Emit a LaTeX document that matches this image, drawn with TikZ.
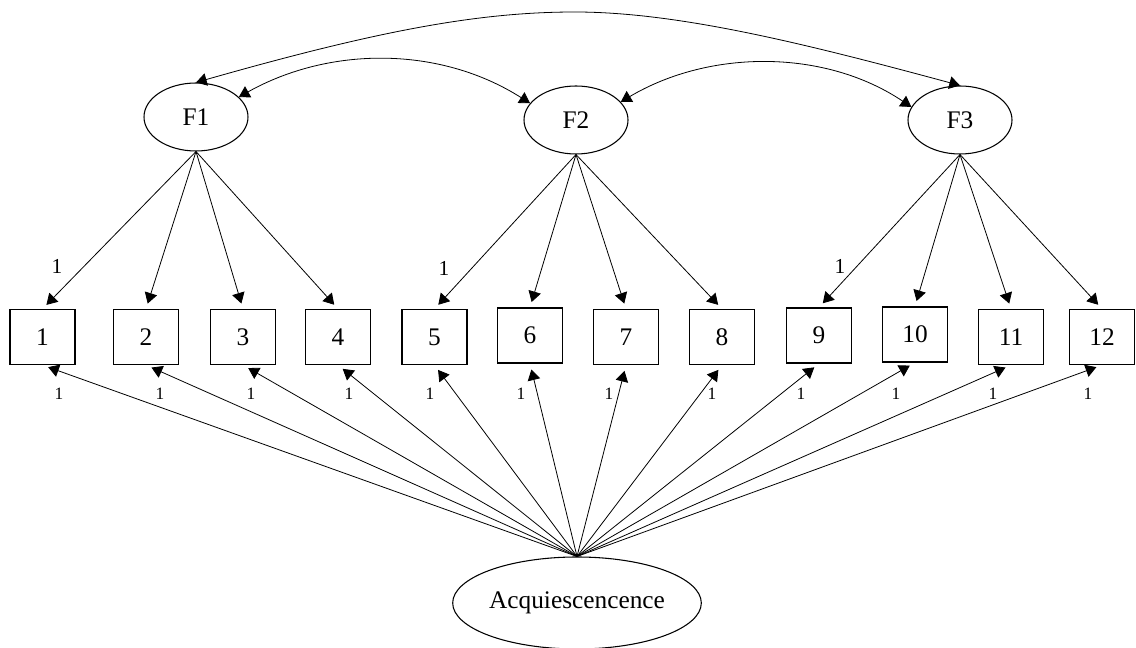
\documentclass[tikz,border=0pt]{standalone}
\usepackage{fontspec}
\setmainfont{Liberation Serif}
\usetikzlibrary{shapes.geometric,arrows.meta}
\begin{document}
\begin{tikzpicture}[x=0.75pt,y=-0.75pt,
  lat/.style={draw,ellipse,inner sep=0pt,minimum width=78pt,minimum height=51pt,line width=0.8pt,font=\fontsize{19}{21}\selectfont},
  acq/.style={draw,ellipse,inner sep=0pt,minimum width=183.75pt,minimum height=69pt,line width=0.8pt,font=\fontsize{19}{21}\selectfont},
  obs/.style={draw,rectangle,inner sep=0pt,minimum width=48.75pt,minimum height=41.25pt,line width=0.9pt,font=\fontsize{19}{21}\selectfont},
  arr/.style={line width=0.6pt,-{Triangle[length=8pt,width=9.5pt]}},
  biarr/.style={line width=0.6pt,{Triangle[length=8pt,width=9.5pt]}-{Triangle[length=8pt,width=9.5pt]}},
  ldlab/.style={font=\fontsize{16}{18}\selectfont,inner sep=0pt},
  smlab/.style={font=\fontsize{13}{15}\selectfont,inner sep=0pt}]
\useasboundingbox (0,0) rectangle (1136,648);
% latent factors
\node[lat] (F1) at (196,117) {F1};
\node[lat] (F2) at (576,120) {F2};
\node[lat] (F3) at (960,120) {F3};
\node[acq] (A) at (577,603) {Acquiescencence};
% observed items
\foreach \i/\x/\y in {1/42.5/337, 2/146/337, 3/243/337, 4/338/337, 5/434.5/337, 6/530/335.5, 7/626/337, 8/722/337, 9/819/335.5, 10/915/334.5, 11/1011/337, 12/1102/337}
  \node[obs] (b\i) at (\x,\y) {\i};
% covariances
\draw[biarr] (F1.north) .. controls (380,30) and (480,12) .. (575,12) .. controls (680,12) and (810,45) .. (F3.north);
\draw[biarr] (F1.25) .. controls (330,46) and (440,46) .. (F2.160);
\draw[biarr] (F2.22) .. controls (710,49) and (825,49) .. (F3.165);
% loadings
\foreach \f/\b in {F1/1,F1/2,F1/3,F1/4,F2/5,F2/6,F2/7,F2/8,F3/9,F3/10,F3/11,F3/12}
  \draw[arr,shorten >=4.2pt] (\f.south) -- (b\b.north);
% acquiescence paths
\foreach \b in {1,...,12}
  \draw[arr,shorten >=4.5pt] (A.north) -- (b\b.south);
% loading labels
\node[ldlab] (l1) at (57,266) {1};
\node[ldlab] (l5) at (444,268) {1};
\node[ldlab] (l9) at (840,266) {1};
% acquiescence labels
\foreach \i/\x in {1/59,2/160,3/251,4/349,5/430,6/521,7/609,8/712,9/801,10/896,11/993,12/1088}
  \node[smlab] (a\i) at (\x,394) {1};
\end{tikzpicture}
\end{document}
